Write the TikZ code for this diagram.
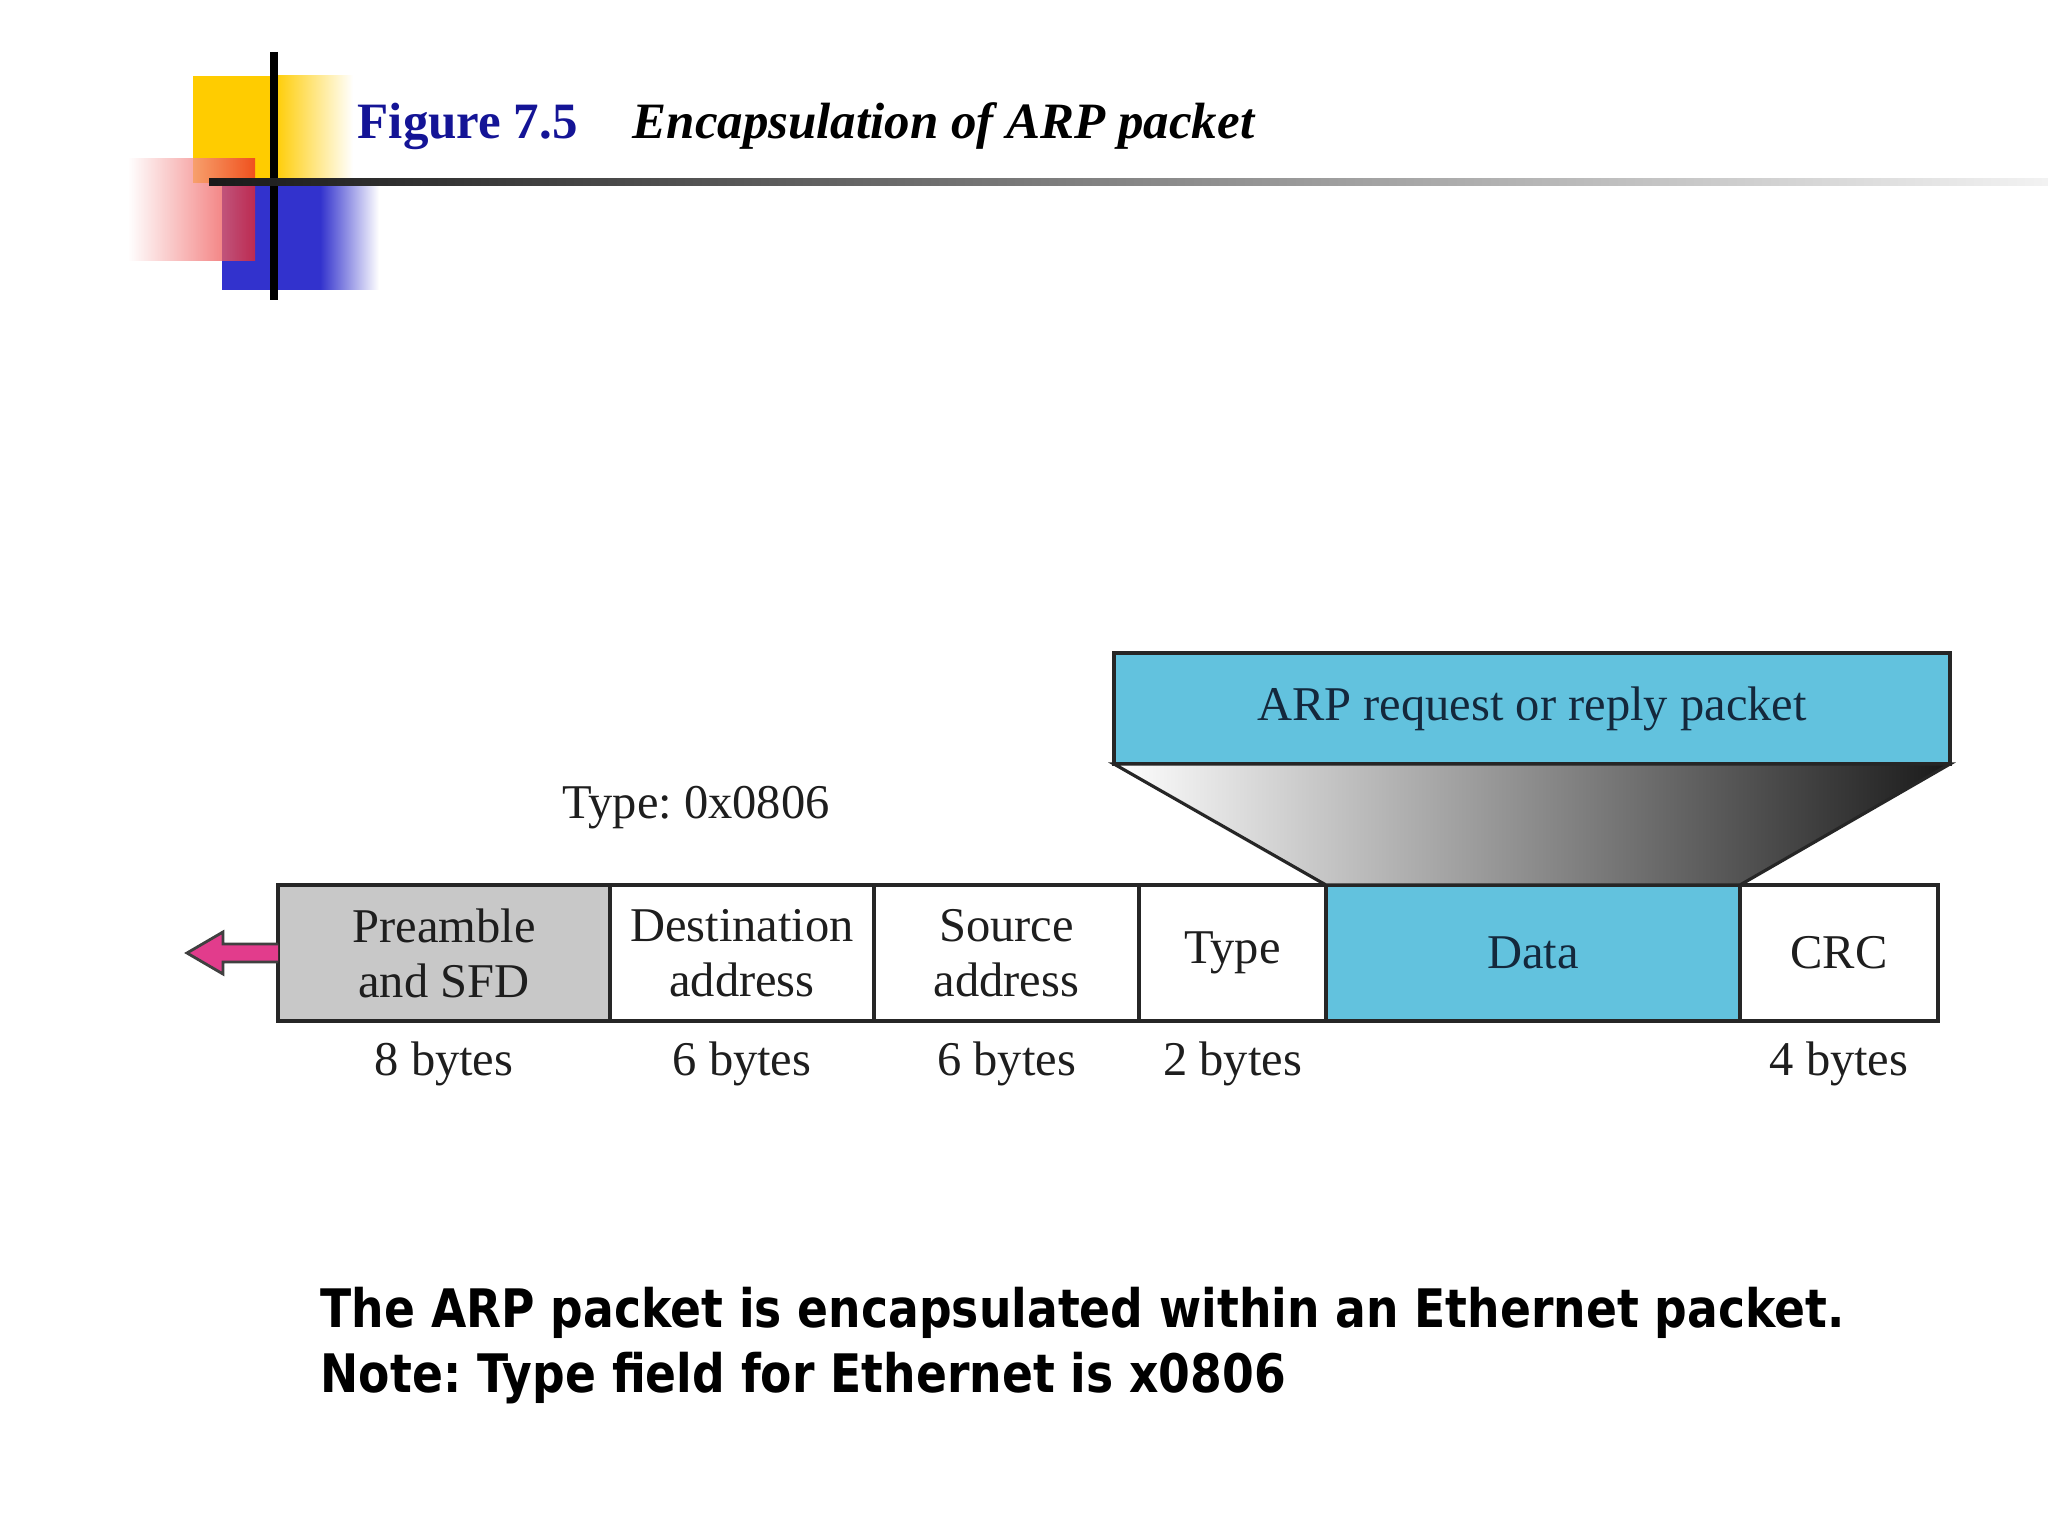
\documentclass[tikz,border=0pt]{standalone}
\usepackage{fontspec}
\setmainfont{Liberation Serif}
\newfontfamily\notefont[FakeStretch=0.86]{DejaVu Sans}
\usetikzlibrary{positioning,calc}
\frenchspacing

\definecolor{arpblue}{RGB}{98,194,222}
\definecolor{pregray}{RGB}{200,200,200}
\definecolor{figblue}{RGB}{20,20,150}
\definecolor{arrowpink}{RGB}{226,60,140}
\definecolor{decoyellow}{RGB}{255,204,0}
\definecolor{decoblue}{RGB}{50,50,205}
\definecolor{decored}{RGB}{235,40,40}
\definecolor{fieldtext}{RGB}{30,30,30}
\definecolor{arptext}{RGB}{20,40,60}

\begin{document}
\begin{tikzpicture}[
    field/.style={
        rectangle, draw=black!85, line width=0.9pt, outer sep=0pt,
        minimum height=1.36cm, inner sep=0pt, align=center,
        font=\fontsize{13.8}{15.6}\selectfont, text=fieldtext
    },
    arpfield/.style={field, fill=arpblue, text=arptext},
    bytes/.style={font=\fontsize{13.8}{15.6}\selectfont, text=fieldtext, inner sep=0pt},
    title/.style={anchor=base west, inner sep=0pt, font=\fontsize{14.5}{17}\selectfont\bfseries},
    note/.style={anchor=base west, inner sep=0pt, font=\notefont\bfseries\fontsize{15.1}{18.5}\selectfont}
]
    \useasboundingbox[fill=white] (0,0) rectangle (20.48,-15.36);

    % corner decoration
    \fill[decoyellow] (1.93,-0.76) rectangle (2.74,-1.83);
    \shade[left color=decoyellow, right color=white] (2.74,-0.76) rectangle (3.53,-1.83);
    \fill[decoblue] (2.22,-1.83) rectangle (3.20,-2.90);
    \shade[left color=decoblue, right color=white] (3.20,-1.83) rectangle (3.79,-2.90);
    \shade[left color=white, right color=decored, opacity=0.75] (1.28,-1.59) rectangle (2.55,-2.61);
    \draw[line width=2pt] (2.74,-0.52) -- (2.74,-3.00);
    \shade[left color=black!90, middle color=black!55, right color=black!5] (2.09,-1.79) rectangle (20.48,-1.86);

    % title
    \node[title, text=figblue] (fig) at (3.57,-1.39) {Figure 7.5};
    \node[title, font=\fontsize{14.5}{17}\selectfont\bfseries\itshape] (cap) at (6.32,-1.39) {Encapsulation of ARP packet};

    % ethernet frame
    \node[field, fill=pregray, minimum width=3.32cm, anchor=north west] (pre) at (2.78,-8.85) {Preamble\\and SFD};
    \node[field, minimum width=2.64cm, right=0pt of pre] (dst) {Destination\\address};
    \node[field, minimum width=2.65cm, right=0pt of dst] (src) {Source\\address};
    \node[field, minimum width=1.87cm, right=0pt of src] (type) {Type};
    \node[arpfield, minimum width=4.14cm, right=0pt of type] (data) {Data};
    \node[field, minimum width=1.98cm, right=0pt of data] (crc) {CRC};

    \foreach \f/\n in {pre/8,dst/6,src/6,type/2,crc/4}
        \node[bytes, below=0.2cm of \f] (b\f) {\n\ bytes};

    \node[bytes] (typeval) at (6.96,-8.08) {Type: 0x0806};

    % ARP packet
    \node[arpfield, minimum width=8.36cm, minimum height=1.11cm, anchor=north west] (arp) at (11.14,-6.53) {ARP request or reply packet};
    \shadedraw[left color=white, right color=black!90, draw=black!85, line width=0.9pt]
        (arp.south west) -- (arp.south east) -- (data.north east) -- (data.north west) -- cycle;

    % outgoing arrow
    \coordinate (tip) at ([xshift=-0.91cm]pre.west);
    \filldraw[fill=arrowpink, draw=black!75, line width=0.8pt]
        ($(pre.west)+(0,0.09)$) -- ($(tip)+(0.36,0.09)$) -- ($(tip)+(0.36,0.21)$) -- (tip)
        -- ($(tip)+(0.36,-0.21)$) -- ($(tip)+(0.36,-0.09)$) -- ($(pre.west)+(0,-0.09)$);

    % note
    \node[note] (note1) at (3.20,-13.27) {The ARP packet is encapsulated within an Ethernet packet.};
    \node[note] (note2) at ([yshift=-0.65cm]note1.base west) {Note: Type field for Ethernet is x0806};
\end{tikzpicture}
\end{document}
